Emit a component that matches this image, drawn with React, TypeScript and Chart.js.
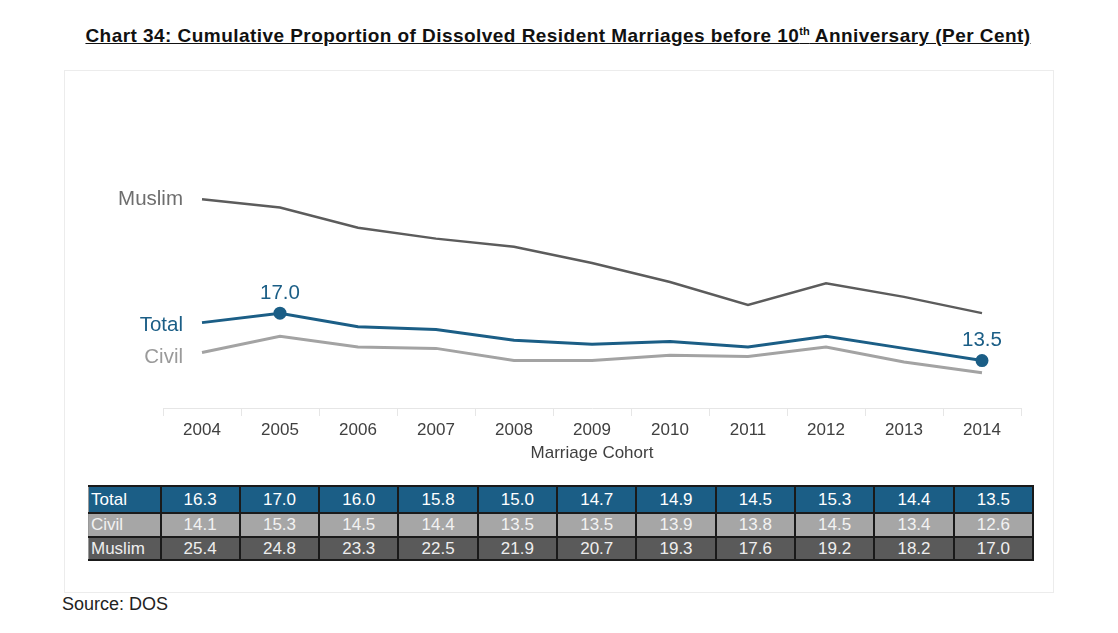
import React, { useEffect, useRef } from "react";
import { Chart, registerables } from "chart.js";

Chart.register(...registerables);

const years = ["2004", "2005", "2006", "2007", "2008", "2009", "2010", "2011", "2012", "2013", "2014"];
const total = [16.3, 17.0, 16.0, 15.8, 15.0, 14.7, 14.9, 14.5, 15.3, 14.4, 13.5];
const civil = [14.1, 15.3, 14.5, 14.4, 13.5, 13.5, 13.9, 13.8, 14.5, 13.4, 12.6];
const muslim = [25.4, 24.8, 23.3, 22.5, 21.9, 20.7, 19.3, 17.6, 19.2, 18.2, 17.0];
const seriesNames = ["Total", "Civil", "Muslim"];
const labeledTotalIdx = [1, 10];
const yMin = 10;
const yMax = 30;

const BLUE = "#1b5e86";
const CIVIL = "#a3a3a3";
const MUSLIM = "#5c5c5c";
const FONT = "'Liberation Sans', Arial, sans-serif";

const labelPlugin = {
  id: "seriesLabels",
  afterDatasetsDraw(chart: any) {
    const ctx = chart.ctx;
    const x = chart.scales.x;
    const y = chart.scales.y;
    ctx.save();
    ctx.font = `20.5px ${FONT}`;
    ctx.textBaseline = "middle";
    ctx.textAlign = "right";
    const labelColors = [BLUE, "#9a9a9a", "#6e6e6e"];
    const offsets = [3, 5, 0];
    chart.data.datasets.forEach((ds: any, i: number) => {
      ctx.fillStyle = labelColors[i];
      ctx.fillText(ds.label, x.getPixelForValue(0) - 19, y.getPixelForValue(ds.data[0]) + offsets[i]);
    });
    ctx.textAlign = "center";
    ctx.textBaseline = "bottom";
    ctx.fillStyle = BLUE;
    labeledTotalIdx.forEach((idx) => {
      ctx.fillText(total[idx].toFixed(1), x.getPixelForValue(idx), y.getPixelForValue(total[idx]) - 10);
    });
    ctx.restore();
  },
};

function ChartCanvas() {
  const ref = useRef<HTMLCanvasElement>(null);
  useEffect(() => {
    if (!ref.current) return;
    const chart = new Chart(ref.current, {
      type: "line",
      data: {
        labels: years,
        datasets: [
          {
            label: seriesNames[0],
            data: total,
            borderColor: BLUE,
            backgroundColor: BLUE,
            borderWidth: 3,
            pointRadius: (c: any) => (labeledTotalIdx.includes(c.dataIndex) ? 5 : 0),
            pointHoverRadius: 0,
            tension: 0,
            order: 0,
          },
          {
            label: seriesNames[1],
            data: civil,
            borderColor: CIVIL,
            backgroundColor: CIVIL,
            borderWidth: 3,
            pointRadius: 0,
            tension: 0,
            order: 1,
          },
          {
            label: seriesNames[2],
            data: muslim,
            borderColor: MUSLIM,
            backgroundColor: MUSLIM,
            borderWidth: 2.5,
            pointRadius: 0,
            tension: 0,
            order: 2,
          },
        ],
      },
      options: {
        animation: false,
        responsive: false,
        maintainAspectRatio: false,
        layout: { padding: { left: 99, right: 32, top: 67, bottom: 0 } },
        plugins: { legend: { display: false }, tooltip: { enabled: false } },
        scales: {
          x: {
            offset: true,
            afterFit: (s: any) => {
              s.height = 62;
            },
            grid: {
              offset: true,
              drawOnChartArea: false,
              drawTicks: true,
              tickLength: 8,
              color: "#e6e6e6",
            },
            border: { color: "#e6e6e6", width: 1 },
            ticks: { color: "#404040", font: { family: FONT, size: 17 }, padding: 4 },
            title: {
              display: true,
              text: "Marriage Cohort",
              color: "#404040",
              font: { family: FONT, size: 17 },
              padding: { top: 0, bottom: 6 },
            },
          },
          y: { display: false, min: yMin, max: yMax },
        },
      },
      plugins: [labelPlugin],
    } as any);
    return () => chart.destroy();
  }, []);
  return (
    <canvas
      ref={ref}
      width={989}
      height={400}
      style={{ position: "absolute", left: 64, top: 70, width: 989, height: 400 }}
    />
  );
}

const rows = [
  { name: seriesNames[0], values: total, bg: BLUE, fg: "#ffffff", h: 27 },
  { name: seriesNames[1], values: civil, bg: "#a6a6a6", fg: "#f2f2f2", h: 24 },
  { name: seriesNames[2], values: muslim, bg: "#5a5a5a", fg: "#eeeeee", h: 23 },
];

export default function App() {
  return (
    <div
      style={{
        position: "absolute",
        left: 0,
        top: 0,
        width: 1118,
        height: 633,
        background: "#ffffff",
        fontFamily: FONT,
        overflow: "hidden",
      }}
    >
      <div
        style={{
          position: "absolute",
          left: 0,
          top: 20,
          width: 1116,
          textAlign: "center",
          fontWeight: "bold",
          fontSize: 19,
          letterSpacing: "0.45px",
          lineHeight: "22px",
          color: "#111",
          textDecoration: "underline",
        }}
      >
        Chart 34: Cumulative Proportion of Dissolved Resident Marriages before 10
        <sup style={{ fontSize: 11, letterSpacing: 0 }}>th</sup> Anniversary (Per Cent)
      </div>
      <div
        style={{
          position: "absolute",
          left: 64,
          top: 70,
          width: 988,
          height: 521,
          border: "1px solid #ececec",
        }}
      />
      <ChartCanvas />
      <table
        style={{
          position: "absolute",
          left: 88,
          top: 485,
          width: 946,
          borderCollapse: "collapse",
          tableLayout: "fixed",
          fontSize: 17,
          border: "1px solid #999",
        }}
      >
        <colgroup>
          <col style={{ width: 72 }} />
          {years.map((y) => (
            <col key={y} />
          ))}
        </colgroup>
        <tbody>
          {rows.map((r) => (
            <tr key={r.name} style={{ height: r.h, background: r.bg, color: r.fg }}>
              <td style={{ padding: "0 2px", border: "2px solid #1a1a1a", borderLeft: "none", lineHeight: "18px" }}>
                {r.name}
              </td>
              {r.values.map((v, i) => (
                <td
                  key={i}
                  style={{ padding: 0, textAlign: "center", border: "2px solid #1a1a1a", lineHeight: "18px" }}
                >
                  {v.toFixed(1)}
                </td>
              ))}
            </tr>
          ))}
        </tbody>
      </table>
      <div style={{ position: "absolute", left: 62, top: 594, fontSize: 18, color: "#222" }}>Source: DOS</div>
    </div>
  );
}
